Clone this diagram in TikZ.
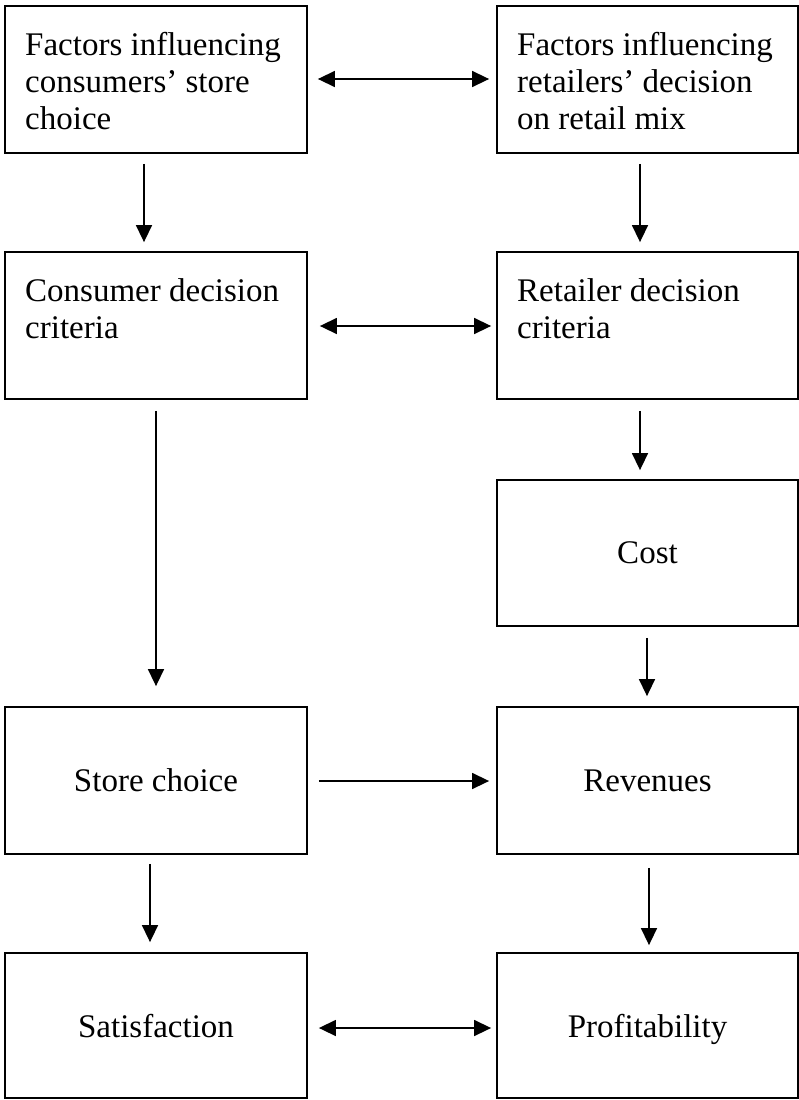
\documentclass[tikz,border=0pt]{standalone}
\usepackage{fontspec}
\setmainfont{Liberation Serif}
\usetikzlibrary{arrows.meta}
\begin{document}
\begin{tikzpicture}[x=1pt,y=-1pt,
  box/.style={draw, line width=1.8pt, minimum width=302pt, minimum height=147pt,
    inner sep=0pt, text depth=0pt, font=\fontsize{33}{37}\selectfont},
  boxtext/.style={anchor=north west, align=left, inner sep=0pt,
    font=\fontsize{33}{37}\selectfont},
  link/.style={line width=1.5pt, -{Triangle[length=17pt,width=16pt]}},
  both/.style={line width=1.5pt, {Triangle[length=17pt,width=16pt]}-{Triangle[length=17pt,width=16pt]}}
]
\useasboundingbox (0,0) rectangle (799,1100);

% consumer column
\node[box] (fl) at (156,79.5) {};
\node[boxtext] (flt) at (25,32.5) {Factors influencing\\consumers’ store\\choice};
\node[box] (cl) at (156,325.5) {};
\node[boxtext] (clt) at (25,278.5) {Consumer decision\\criteria};
\node[box] (store) at (156,780.5) {Store choice};
\node[box, minimum height=145pt] (sat) at (156,1025.5) {Satisfaction};

% retailer column
\node[box, minimum width=301pt] (fr) at (647.5,79.5) {};
\node[boxtext] (frt) at (517,32.5) {Factors influencing\\retailers’ decision\\on retail mix};
\node[box, minimum width=301pt] (cr) at (647.5,325.5) {};
\node[boxtext] (crt) at (517,278.5) {Retailer decision\\criteria};
\node[box, minimum width=301pt, minimum height=146pt] (cost) at (647.5,553) {Cost};
\node[box, minimum width=301pt] (rev) at (647.5,780.5) {Revenues};
\node[box, minimum width=301pt, minimum height=145pt] (prof) at (647.5,1025.5) {Profitability};

% connectors
\draw[both] ([xshift=10pt,yshift=0.5pt]fl.east) -- ([xshift=-7pt,yshift=0.5pt]fr.west);
\draw[link] ([xshift=-12pt,yshift=-10pt]fl.south) -- ([xshift=-12pt,yshift=9pt]cl.north);
\draw[link] ([xshift=-7.5pt,yshift=-10pt]fr.south) -- ([xshift=-7.5pt,yshift=9pt]cr.north);
\draw[both] ([xshift=12pt,yshift=-0.5pt]cl.east) -- ([xshift=-5pt,yshift=-0.5pt]cr.west);
\draw[link] ([yshift=-11pt]cl.south) -- ([yshift=20pt]store.north);
\draw[link] ([xshift=-7.5pt,yshift=-11pt]cr.south) -- ([xshift=-7.5pt,yshift=9pt]cost.north);
\draw[link] ([xshift=-0.5pt,yshift=-11pt]cost.south) -- ([xshift=-0.5pt,yshift=10pt]rev.north);
\draw[link] ([xshift=11pt,yshift=-0.5pt]store.east) -- ([xshift=-7pt,yshift=-0.5pt]rev.west);
\draw[link] ([xshift=-6pt,yshift=-9pt]store.south) -- ([xshift=-6pt,yshift=10pt]sat.north);
\draw[link] ([xshift=1.5pt,yshift=-13pt]rev.south) -- ([xshift=1.5pt,yshift=7pt]prof.north);
\draw[both] ([xshift=11pt,yshift=-2.5pt]sat.east) -- ([xshift=-5pt,yshift=-2.5pt]prof.west);
\end{tikzpicture}
\end{document}
